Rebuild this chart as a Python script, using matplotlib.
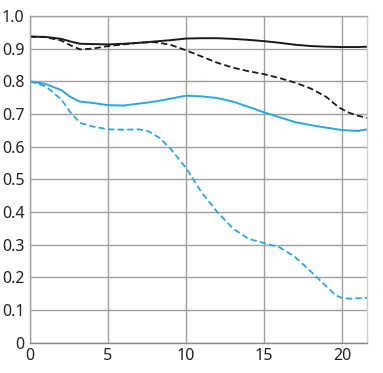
import matplotlib
matplotlib.use("Agg")
import matplotlib.pyplot as plt

plt.rcParams['font.family'] = ['Noto Sans', 'DejaVu Sans']

x_black_solid = [0, 1, 2, 2.6, 3.2, 4, 5, 6, 7, 8, 9, 10, 11, 12, 13, 14, 15, 16, 17, 18, 19, 20, 21, 21.6]
y_black_solid = [0.937, 0.936, 0.93, 0.922, 0.915, 0.914, 0.913, 0.915, 0.918, 0.922, 0.926, 0.931, 0.932, 0.932, 0.93, 0.927, 0.923, 0.918, 0.912, 0.908, 0.906, 0.905, 0.905, 0.906]

x_black_dash = [0, 1, 2, 2.6, 3.2, 4, 5, 6, 7, 8, 9, 10, 11, 12, 13, 14, 15, 16, 17, 18, 19, 19.8, 20.5, 21, 21.6]
y_black_dash = [0.937, 0.935, 0.925, 0.91, 0.898, 0.9, 0.908, 0.913, 0.918, 0.92, 0.912, 0.895, 0.876, 0.857, 0.842, 0.831, 0.822, 0.81, 0.796, 0.778, 0.752, 0.72, 0.703, 0.695, 0.688]

x_blue_solid = [0, 1, 2, 2.6, 3.2, 4, 5, 6, 7, 8, 9, 10, 11, 12, 13, 14, 15, 16, 17, 18, 19, 20, 21, 21.6]
y_blue_solid = [0.8, 0.792, 0.773, 0.752, 0.738, 0.734, 0.727, 0.726, 0.732, 0.738, 0.747, 0.756, 0.754, 0.749, 0.738, 0.722, 0.705, 0.69, 0.675, 0.666, 0.658, 0.651, 0.648, 0.653]

x_blue_dash = [0, 1, 2, 2.6, 3.2, 4, 5, 6, 7, 7.6, 8.3, 9, 10, 11, 12, 13, 14, 15, 16, 17, 18, 19, 19.6, 20, 20.5, 21.6]
y_blue_dash = [0.8, 0.785, 0.745, 0.705, 0.673, 0.662, 0.653, 0.652, 0.653, 0.647, 0.627, 0.594, 0.535, 0.46, 0.4, 0.35, 0.318, 0.305, 0.292, 0.262, 0.218, 0.172, 0.145, 0.137, 0.135, 0.137]

x_ticks = [0, 5, 10, 15, 20]
y_ticks = [0, 0.1, 0.2, 0.3, 0.4, 0.5, 0.6, 0.7, 0.8, 0.9, 1.0]
y_tick_labels = ['0', '0.1', '0.2', '0.3', '0.4', '0.5', '0.6', '0.7', '0.8', '0.9', '1.0']

fig = plt.figure(figsize=(3.83, 3.73), dpi=100)
ax = fig.add_axes([30/383, 1 - 342.7/373, (367-30)/383, (342.7-16)/373])

black = '#1a1a1a'
blue = '#29a6e6'
ax.plot(x_black_solid, y_black_solid, color=black, lw=1.4, solid_capstyle='butt')
ax.plot(x_black_dash, y_black_dash, color=black, lw=1.3, dashes=(3.5, 1.8))
ax.plot(x_blue_solid, y_blue_solid, color=blue, lw=1.4)
ax.plot(x_blue_dash, y_blue_dash, color=blue, lw=1.3, dashes=(3.5, 1.8))

ax.set_xlim(0, 21.6)
ax.set_ylim(0, 1.0)
ax.set_xticks(x_ticks)
ax.set_xticklabels([str(v) for v in x_ticks])
ax.set_yticks(y_ticks)
ax.set_yticklabels(y_tick_labels)
ax.grid(True, color='#a0a0a0', lw=1.0)
ax.set_axisbelow(True)
for side in ['top', 'left']:
    ax.spines[side].set_color('#a0a0a0')
    ax.spines[side].set_linewidth(1.0)
ax.spines['right'].set_color('#d0d0d0')
ax.spines['right'].set_linewidth(1.0)
ax.spines['bottom'].set_color('#888888')
ax.spines['bottom'].set_linewidth(1.0)
ax.tick_params(length=0, labelsize=11.5, colors='#222222', pad=4)

fig.savefig('out.png', dpi=100)
